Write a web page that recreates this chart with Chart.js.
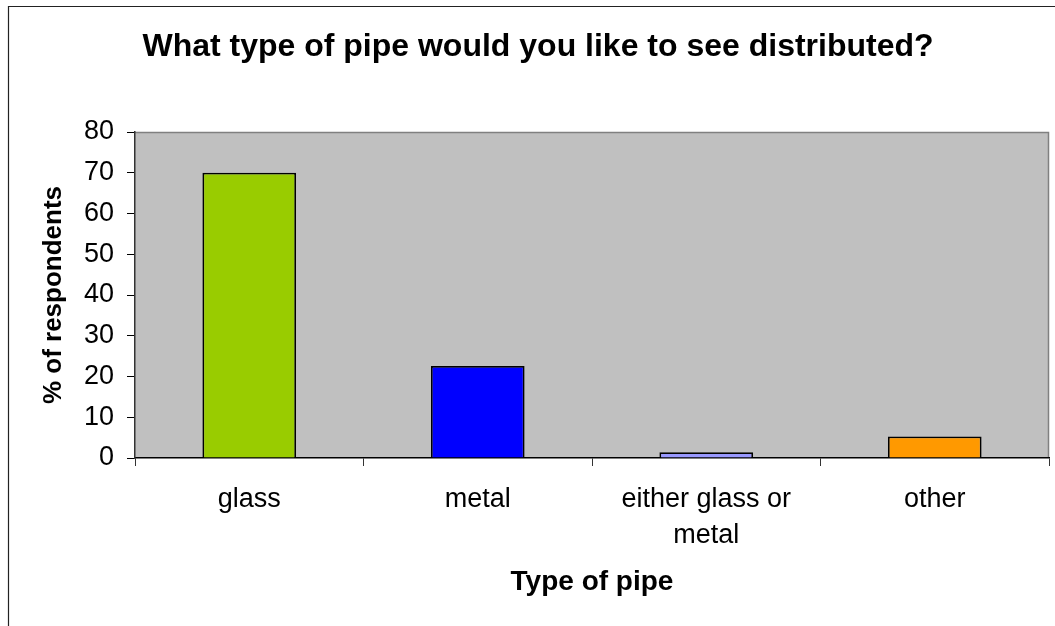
<!DOCTYPE html>
<html>
<head>
<meta charset="utf-8">
<script src="https://cdn.jsdelivr.net/npm/chart.js@4/dist/chart.umd.min.js"></script>
<style>
  html, body { margin: 0; padding: 0; background: #fff; }
  #wrap { width: 1055px; height: 626px; position: relative; }
</style>
</head>
<body>
<div id="wrap"><canvas id="grafico" width="1055" height="626"></canvas></div>
<script>
// Datos del gráfico
const categorias = ['glass', 'metal', ['either glass or', 'metal'], 'other'];
const porcentajes = [70.0, 22.6, 1.4, 5.3];
const coloresBarras = ['#99CC00', '#0000FF', '#9999FF', '#FF9900'];
const ticksY = [0, 10, 20, 30, 40, 50, 60, 70, 80];

const fuente = "'Liberation Sans', Arial, sans-serif";

// Fondo gris del área de trazado + marco exterior
const fondoPlot = {
    id: 'fondoPlot',
    beforeDraw(chart) {
        const { ctx, chartArea: a } = chart;
        ctx.save();
        ctx.fillStyle = '#C0C0C0';
        ctx.fillRect(a.left, a.top, a.right - a.left, a.bottom - a.top);
        ctx.strokeStyle = '#808080';
        ctx.lineWidth = 1.5;
        ctx.beginPath();
        ctx.moveTo(a.left, a.top + 0.5);
        ctx.lineTo(a.right - 0.5, a.top + 0.5);
        ctx.lineTo(a.right - 0.5, a.bottom);
        ctx.stroke();
        // marco del gráfico (cortado a la derecha y abajo)
        ctx.strokeStyle = '#222';
        ctx.lineWidth = 1.2;
        ctx.beginPath();
        ctx.moveTo(8.5, 626);
        ctx.lineTo(8.5, 6.5);
        ctx.lineTo(1055, 6.5);
        ctx.stroke();
        ctx.restore();
    }
};

const grafico = new Chart(document.getElementById('grafico').getContext('2d'), {
    type: 'bar',
    data: {
        labels: categorias,
        datasets: [{
            data: porcentajes,
            backgroundColor: coloresBarras,
            borderColor: '#000',
            borderWidth: 1.8,
            borderSkipped: 'bottom',
            barPercentage: 0.41,
            categoryPercentage: 1
        }]
    },
    options: {
        responsive: false,
        animation: false,
        layout: { padding: { left: 27, right: 6, top: 0, bottom: 0 } },
        plugins: {
            legend: { display: false },
            tooltip: { enabled: false },
            title: {
                display: true,
                text: 'What type of pipe would you like to see distributed?',
                color: '#000',
                font: { family: fuente, size: 32, weight: 'bold', lineHeight: 1.2 },
                padding: { top: 27.5, bottom: 66.1 }
            }
        },
        scales: {
            x: {
                afterFit: s => { s.height = 168; },
                grid: { display: true, drawOnChartArea: false, drawTicks: true, tickLength: 8, color: '#333', lineWidth: 1 },
                border: { display: true, color: '#000', width: 1.5 },
                ticks: {
                    color: '#000',
                    padding: 15,
                    maxRotation: 0,
                    autoSkip: false,
                    font: { family: fuente, size: 27, lineHeight: 1.35 }
                },
                title: {
                    display: true,
                    text: 'Type of pipe',
                    color: '#000',
                    font: { family: fuente, size: 28, weight: 'bold', lineHeight: 1.2 },
                    padding: { top: 10, bottom: 26.9 }
                }
            },
            y: {
                min: 0,
                max: 80,
                afterFit: s => { s.width = 108; },
                afterBuildTicks: s => { s.ticks = ticksY.map(v => ({ value: v })); },
                grid: { display: true, drawOnChartArea: false, drawTicks: true, tickLength: 8, color: '#000', lineWidth: 1 },
                border: { display: true, color: '#333', width: 1.5 },
                ticks: {
                    color: '#000',
                    padding: 13,
                    font: { family: fuente, size: 27, lineHeight: 1.2 }
                },
                title: {
                    display: true,
                    text: '% of respondents',
                    color: '#000',
                    font: { family: fuente, size: 26, weight: 'bold', lineHeight: 1.2 },
                    padding: { top: 11.4, bottom: 4 }
                }
            }
        }
    },
    plugins: [fondoPlot]
});
</script>
</body>
</html>
